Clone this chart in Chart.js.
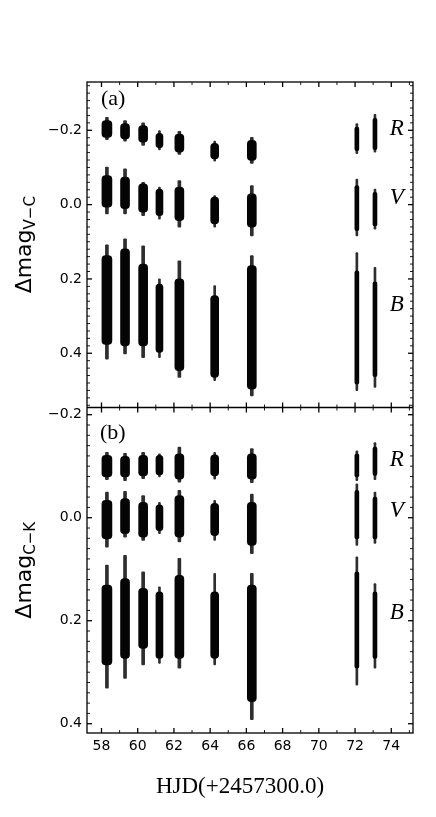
<!DOCTYPE html>
<html>
<head>
<meta charset="utf-8">
<script src="https://cdn.jsdelivr.net/npm/chart.js@4.4.1/dist/chart.umd.min.js"></script>
<style>
body { margin: 0; background: #fff; }
#wrap { position: relative; width: 436px; height: 817px; }
</style>
</head>
<body>
<div id="wrap"><canvas id="canv" width="436" height="817"></canvas></div>
<script>
// nights, HJD - 2457300
var hjd = [58.3, 59.3, 60.3, 61.2, 62.3, 64.25, 66.3, 72.1, 73.1];

// panel (a): V - C, full spread (min/max) and dense part (q1/q3) per night
var aR_min = [-0.235, -0.226, -0.220, -0.199, -0.197, -0.171, -0.181, -0.218, -0.243];
var aR_max = [-0.175, -0.171, -0.159, -0.147, -0.135, -0.117, -0.111, -0.137, -0.141];
var aR_q1  = [-0.226, -0.218, -0.213, -0.192, -0.190, -0.165, -0.173, -0.209, -0.232];
var aR_q3  = [-0.181, -0.177, -0.168, -0.153, -0.141, -0.123, -0.119, -0.145, -0.148];

var aV_min = [-0.101, -0.096, -0.060, -0.047, -0.065, -0.024, -0.051, -0.069, -0.042];
var aV_max = [0.025, 0.025, 0.030, 0.039, 0.061, 0.061, 0.084, 0.084, 0.066];
var aV_q1  = [-0.078, -0.074, -0.056, -0.042, -0.047, -0.020, -0.029, -0.051, -0.033];
var aV_q3  = [0.007, 0.011, 0.020, 0.030, 0.043, 0.052, 0.061, 0.070, 0.057];

var aB_min = [0.108, 0.092, 0.111, 0.200, 0.151, 0.218, 0.137, 0.129, 0.169];
var aB_max = [0.416, 0.402, 0.412, 0.412, 0.465, 0.474, 0.515, 0.501, 0.492];
var aB_q1  = [0.137, 0.119, 0.160, 0.214, 0.200, 0.245, 0.164, 0.178, 0.208];
var aB_q3  = [0.376, 0.380, 0.380, 0.398, 0.447, 0.465, 0.497, 0.483, 0.463];

// panel (b): C - K
var bR_min = [-0.127, -0.125, -0.127, -0.124, -0.137, -0.127, -0.134, -0.130, -0.146];
var bR_max = [-0.074, -0.072, -0.076, -0.079, -0.069, -0.075, -0.068, -0.072, -0.074];
var bR_q1  = [-0.121, -0.119, -0.121, -0.121, -0.124, -0.122, -0.124, -0.124, -0.137];
var bR_q3  = [-0.079, -0.079, -0.081, -0.083, -0.075, -0.081, -0.075, -0.079, -0.082];

var bV_min = [-0.050, -0.051, -0.043, -0.030, -0.053, -0.034, -0.046, -0.066, -0.050];
var bV_max = [0.057, 0.038, 0.044, 0.031, 0.047, 0.044, 0.070, 0.054, 0.050];
var bV_q1  = [-0.034, -0.037, -0.030, -0.025, -0.043, -0.028, -0.030, -0.053, -0.040];
var bV_q3  = [0.041, 0.031, 0.038, 0.025, 0.038, 0.035, 0.054, 0.041, 0.041];

var bB_min = [0.092, 0.073, 0.105, 0.134, 0.079, 0.108, 0.108, 0.076, 0.128];
var bB_max = [0.331, 0.312, 0.286, 0.283, 0.292, 0.286, 0.392, 0.325, 0.292];
var bB_q1  = [0.131, 0.118, 0.137, 0.144, 0.112, 0.144, 0.131, 0.105, 0.144];
var bB_q3  = [0.286, 0.273, 0.254, 0.273, 0.273, 0.273, 0.357, 0.292, 0.273];

var xTicks = [58, 60, 62, 64, 66, 68, 70, 72, 74];
var yTicksA = [-0.2, 0.0, 0.2, 0.4];
var yTicksB = [-0.2, 0.0, 0.2, 0.4];

// widths in px of each night's cluster
var coreW = [10, 9, 9, 7, 9, 8, 9, 4, 4];
var spikeW = [3, 3, 3, 2, 3, 2, 3, 2, 2];

function fmt(v) {
  if (Math.abs(v) < 1e-9) v = 0;
  return v.toFixed(1).replace('-', '\u2212');
}

function buildSets(axis, lo, hi, widths, color, rad) {
  var sets = [];
  for (var i = 0; i < hjd.length; i++) {
    var d = [];
    for (var k = 0; k < lo.length; k++) {
      d.push({x: hjd[i], y: [lo[k][i], hi[k][i]]});
    }
    sets.push({
      data: d,
      yAxisID: axis,
      backgroundColor: color,
      borderWidth: 0,
      borderSkipped: false,
      borderRadius: rad,
      barThickness: widths[i],
      grouped: false
    });
  }
  return sets;
}

var datasets = []
  .concat(buildSets('yA', [aR_q1, aV_q1, aB_q1], [aR_q3, aV_q3, aB_q3], coreW, '#050505', 4))
  .concat(buildSets('yB', [bR_q1, bV_q1, bB_q1], [bR_q3, bV_q3, bB_q3], coreW, '#050505', 4))
  .concat(buildSets('yA', [aR_min, aV_min, aB_min], [aR_max, aV_max, aB_max], spikeW, '#2e2e2e', 1))
  .concat(buildSets('yB', [bR_min, bV_min, bB_min], [bR_max, bV_max, bB_max], spikeW, '#2e2e2e', 1));

var tickFont = {family: 'DejaVu Sans', size: 14};

function line(ctx, x1, y1, x2, y2) {
  ctx.beginPath();
  ctx.moveTo(x1, y1);
  ctx.lineTo(x2, y2);
  ctx.stroke();
}

var bandLabels = [
  {axis: 'yA', t: 'R', x: 74.3, y: -0.203},
  {axis: 'yA', t: 'V', x: 74.3, y: -0.017},
  {axis: 'yA', t: 'B', x: 74.3, y: 0.270},
  {axis: 'yB', t: 'R', x: 74.3, y: -0.113},
  {axis: 'yB', t: 'V', x: 74.3, y: -0.014},
  {axis: 'yB', t: 'B', x: 74.3, y: 0.185}
];

function yTitle(ctx, cx, cy, main, sub) {
  ctx.save();
  ctx.translate(cx, cy);
  ctx.rotate(-Math.PI / 2);
  ctx.font = '22px "DejaVu Sans"';
  var w1 = ctx.measureText(main).width;
  ctx.font = '15px "DejaVu Sans"';
  var w2 = ctx.measureText(sub).width;
  var x0 = -(w1 + w2) / 2;
  ctx.textBaseline = 'alphabetic';
  ctx.textAlign = 'left';
  ctx.font = '22px "DejaVu Sans"';
  ctx.fillText(main, x0, 0);
  ctx.font = '15px "DejaVu Sans"';
  ctx.fillText(sub, x0 + w1, 4);
  ctx.restore();
}

var decor = {
  id: 'decor',
  afterDraw: function(chart) {
    var ctx = chart.ctx, ca = chart.chartArea;
    var xs = chart.scales.x, ya = chart.scales.yA, yb = chart.scales.yB;
    var mid = ya.bottom;
    ctx.save();
    ctx.strokeStyle = '#000';
    ctx.lineWidth = 1.3;
    ctx.strokeRect(ca.left, ca.top, ca.right - ca.left, ca.bottom - ca.top);
    line(ctx, ca.left, mid, ca.right, mid);

    // inward ticks, x
    for (var v = Math.ceil(xs.min); v <= xs.max; v++) {
      var px = xs.getPixelForValue(v);
      var major = v % 2 == 0;
      var len = major ? 5 : 3;
      ctx.lineWidth = major ? 1.3 : 0.9;
      line(ctx, px, ca.top, px, ca.top + len);
      line(ctx, px, mid - len, px, mid + len);
      line(ctx, px, ca.bottom - len, px, ca.bottom);
    }
    // inward ticks, y
    [ya, yb].forEach(function(s) {
      var n0 = Math.ceil(s.min / 0.02 - 1e-6), n1 = Math.floor(s.max / 0.02 + 1e-6);
      for (var n = n0; n <= n1; n++) {
        var py = s.getPixelForValue(n * 0.02);
        var major = n % 10 == 0;
        var len = major ? 5 : 3;
        ctx.lineWidth = major ? 1.3 : 0.9;
        line(ctx, ca.left, py, ca.left + len, py);
        line(ctx, ca.right - len, py, ca.right, py);
      }
    });

    ctx.fillStyle = '#000';
    ctx.font = '22px "Liberation Serif"';
    ctx.textAlign = 'left';
    ctx.textBaseline = 'alphabetic';
    ctx.fillText('(a)', ca.left + 14, ya.top + 23);
    ctx.fillText('(b)', ca.left + 13, yb.top + 31);

    ctx.font = 'italic 23px "Liberation Serif"';
    ctx.textAlign = 'center';
    ctx.textBaseline = 'middle';
    bandLabels.forEach(function(l) {
      var s = chart.scales[l.axis];
      ctx.fillText(l.t, xs.getPixelForValue(l.x), s.getPixelForValue(l.y));
    });

    ctx.font = '23px "Liberation Serif"';
    ctx.textAlign = 'center';
    ctx.fillText('HJD(+2457300.0)', 240, 787);

    yTitle(ctx, 31, (ya.top + ya.bottom) / 2, '\u0394mag', 'V\u2212C');
    yTitle(ctx, 31, (yb.top + yb.bottom) / 2, '\u0394mag', 'C\u2212K');
    ctx.restore();
  }
};

function yScale(min, max, ticksList) {
  return {
    type: 'linear',
    position: 'left',
    stack: 'panels',
    stackWeight: 1,
    reverse: true,
    min: min,
    max: max,
    grid: {display: false, drawTicks: false},
    border: {display: false},
    afterFit: function(s) { s.width = 87; },
    afterBuildTicks: function(s) {
      s.ticks = ticksList.map(function(v) { return {value: v}; });
    },
    ticks: {
      font: tickFont,
      color: '#000',
      padding: 5,
      callback: function(v) { return fmt(v); }
    }
  };
}

var scaleA = yScale(-0.33, 0.546, yTicksA);
scaleA.weight = 1;
var scaleB = yScale(-0.214, 0.418, yTicksB);
scaleB.weight = 0;

new Chart(document.getElementById('canv'), {
  type: 'bar',
  data: {datasets: datasets},
  options: {
    responsive: false,
    animation: false,
    devicePixelRatio: 1,
    layout: {padding: {left: 0, top: 82, right: 23, bottom: 0}},
    plugins: {legend: {display: false}, tooltip: {enabled: false}},
    scales: {
      x: {
        type: 'linear',
        offset: false,
        min: 57.2,
        max: 75.2,
        grid: {display: false, drawTicks: false},
        border: {display: false},
        afterFit: function(s) { s.height = 84; },
        afterBuildTicks: function(s) {
          s.ticks = xTicks.map(function(v) { return {value: v}; });
        },
        ticks: {font: tickFont, color: '#000', padding: 5, maxRotation: 0, autoSkip: false}
      },
      yA: scaleA,
      yB: scaleB
    }
  },
  plugins: [decor]
});
</script>
</body>
</html>
